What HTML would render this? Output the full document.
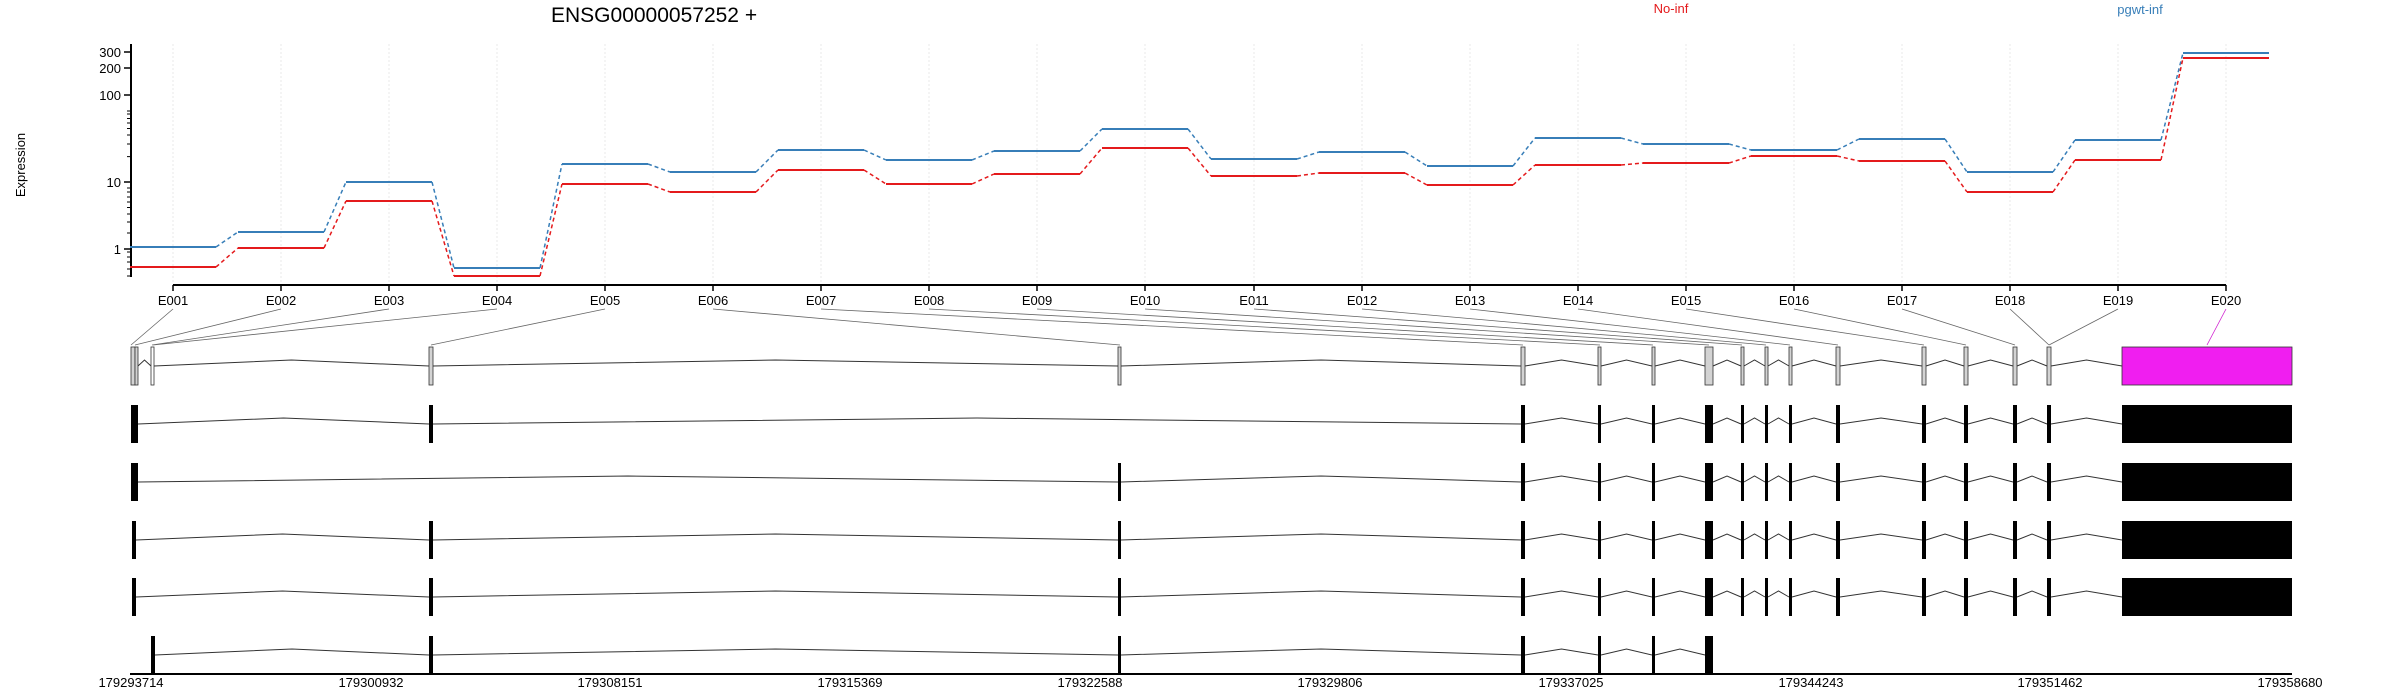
<!DOCTYPE html>
<html><head><meta charset="utf-8"><style>
html,body{margin:0;padding:0;background:#fff;}
svg{display:block;font-family:"Liberation Sans",sans-serif;}
</style></head><body>
<svg width="2400" height="700" viewBox="0 0 2400 700" xmlns="http://www.w3.org/2000/svg">
<defs>
<path id="TF" d="M1121 0L1321 -6L1521 0"/>
<path id="TG" d="M1525 0L1561.5 -6L1598 0M1601 0L1626.5 -6L1652 0M1655 0L1680 -6L1705 0M1713 0L1727 -6L1741 0M1744 0L1754.5 -6L1765 0M1768 0L1778.5 -6L1789 0M1792 0L1814 -6L1836 0M1840 0L1881 -6L1922 0M1926 0L1945 -6L1964 0M1968 0L1990.5 -6L2013 0M2017 0L2032 -6L2047 0M2051 0L2086.5 -6L2122 0"/>
<g id="EX">
<rect x="1521" y="-19" width="4" height="38"/><rect x="1598" y="-19" width="3" height="38"/><rect x="1652" y="-19" width="3" height="38"/><rect x="1705" y="-19" width="8" height="38"/><rect x="1741" y="-19" width="3" height="38"/><rect x="1765" y="-19" width="3" height="38"/><rect x="1789" y="-19" width="3" height="38"/><rect x="1836" y="-19" width="4" height="38"/><rect x="1922" y="-19" width="4" height="38"/><rect x="1964" y="-19" width="4" height="38"/><rect x="2013" y="-19" width="4" height="38"/><rect x="2047" y="-19" width="4" height="38"/><rect x="2122" y="-19" width="170" height="38"/>
</g>
</defs>

<text x="551" y="22" font-size="21">ENSG00000057252 +</text>
<text x="1671" y="13" font-size="13" fill="#e41a1c" text-anchor="middle">No-inf</text>
<text x="2140" y="14" font-size="13" fill="#377eb8" text-anchor="middle">pgwt-inf</text>
<text transform="translate(25,165) rotate(-90)" font-size="13" text-anchor="middle">Expression</text>

<g stroke="#e8e8e8" stroke-width="1" stroke-dasharray="2,2">
<path d="M173 44V285M281 44V285M389 44V285M497 44V285M605 44V285M713 44V285M821 44V285M929 44V285M1037 44V285M1145 44V285M1254 44V285M1362 44V285M1470 44V285M1578 44V285M1686 44V285M1794 44V285M1902 44V285M2010 44V285M2118 44V285M2226 44V285"/>
</g>

<g stroke="#000" fill="none">
<path d="M131 44V277" stroke-width="2"/>
<path d="M124 52H131M124 68H131M124 95H131M124 182H131M124 249H131" stroke-width="1.5"/>
<path d="M127 276H131M127 269H131M127 262H131M127 257H131M127 252H131M127 233H131M127 222H131M127 214H131M127 207.5H131M127 202H131M127 197H131M127 192H131M127 188H131M127 156.6H131M127 144H131M127 135H131M127 128.5H131M127 123H131M127 118.5H131M127 114H131M127 111H131" stroke-width="1"/>
</g>
<g font-size="13" text-anchor="end">
<text x="121" y="57">300</text><text x="121" y="73">200</text><text x="121" y="100">100</text><text x="121" y="187">10</text><text x="121" y="254">1</text>
</g>

<g stroke="#000" fill="none">
<path d="M173 285H2226" stroke-width="2"/>
<path d="M173 285V291M281 285V291M389 285V291M497 285V291M605 285V291M713 285V291M821 285V291M929 285V291M1037 285V291M1145 285V291M1254 285V291M1362 285V291M1470 285V291M1578 285V291M1686 285V291M1794 285V291M1902 285V291M2010 285V291M2118 285V291M2226 285V291" stroke-width="1.5"/>
</g>
<g font-size="13" text-anchor="middle">
<text x="173" y="305">E001</text><text x="281" y="305">E002</text><text x="389" y="305">E003</text><text x="497" y="305">E004</text><text x="605" y="305">E005</text><text x="713" y="305">E006</text><text x="821" y="305">E007</text><text x="929" y="305">E008</text><text x="1037" y="305">E009</text><text x="1145" y="305">E010</text><text x="1254" y="305">E011</text><text x="1362" y="305">E012</text><text x="1470" y="305">E013</text><text x="1578" y="305">E014</text><text x="1686" y="305">E015</text><text x="1794" y="305">E016</text><text x="1902" y="305">E017</text><text x="2010" y="305">E018</text><text x="2118" y="305">E019</text><text x="2226" y="305">E020</text>
</g>

<g fill="none" stroke-width="2">
<path stroke="#377eb8" d="M130 247H216M238 232H324M346 182H432M454 268H540M562 164H648M670 172H756M778 150H864M886 160H972M994 151H1080M1102 129H1188M1211 159H1297M1319 152H1405M1427 166H1513M1535 138H1621M1643 144H1729M1751 150H1837M1859 139H1945M1967 172H2053M2075 140H2161M2183 53H2269"/>
<path stroke="#377eb8" stroke-dasharray="4,3" stroke-width="1.5" d="M216 247L238 232M324 232L346 182M432 182L454 268M540 268L562 164M648 164L670 172M756 172L778 150M864 150L886 160M972 160L994 151M1080 151L1102 129M1188 129L1211 159M1297 159L1319 152M1405 152L1427 166M1513 166L1535 138M1621 138L1643 144M1729 144L1751 150M1837 150L1859 139M1945 139L1967 172M2053 172L2075 140M2161 140L2183 53"/>
<path stroke="#e41a1c" d="M130 267H216M238 248H324M346 201H432M454 276H540M562 184H648M670 192H756M778 170H864M886 184H972M994 174H1080M1102 148H1188M1211 176H1297M1319 173H1405M1427 185H1513M1535 165H1621M1643 163H1729M1751 156H1837M1859 161H1945M1967 192H2053M2075 160H2161M2183 58H2269"/>
<path stroke="#e41a1c" stroke-dasharray="4,3" stroke-width="1.5" d="M216 267L238 248M324 248L346 201M432 201L454 276M540 276L562 184M648 184L670 192M756 192L778 170M864 170L886 184M972 184L994 174M1080 174L1102 148M1188 148L1211 176M1297 176L1319 173M1405 173L1427 185M1513 185L1535 165M1621 165L1643 163M1729 163L1751 156M1837 156L1859 161M1945 161L1967 192M2053 192L2075 160M2161 160L2183 58"/>
</g>

<g stroke="#666" stroke-width="0.8" fill="none">
<path d="M173 309L131 345M281 309L135 345M389 309L152 345M497 309L153 345M605 309L431 345M713 309L1120 345M821 309L1523 345M929 309L1600 345M1037 309L1653 345M1145 309L1709 345M1254 309L1742 345M1362 309L1766 345M1470 309L1790 345M1578 309L1838 345M1686 309L1924 345M1794 309L1966 345M1902 309L2015 345M2010 309L2049 345M2118 309L2049 345"/>
<path d="M2226 309L2207 345" stroke="#d020d0"/>
</g>

<g transform="translate(0,366)">
<g stroke="#333" stroke-width="1" fill="none">
<path d="M138 0L144.5 -6L151 0M154 0L291.5 -6L429 0M433 0L775.5 -6L1118 0"/>
<use href="#TF"/><use href="#TG"/>
</g>
<g fill="#d3d3d3" stroke="#333" stroke-width="0.8">
<rect x="131" y="-19" width="4" height="38"/><rect x="135" y="-19" width="3" height="38"/><rect x="151" y="-19" width="3" height="38" fill="#fff"/><rect x="429" y="-19" width="4" height="38"/><rect x="1118" y="-19" width="3" height="38"/>
<rect x="1521" y="-19" width="4" height="38"/><rect x="1598" y="-19" width="3" height="38"/><rect x="1652" y="-19" width="3" height="38"/><rect x="1705" y="-19" width="8" height="38"/><rect x="1741" y="-19" width="3" height="38"/><rect x="1765" y="-19" width="3" height="38"/><rect x="1789" y="-19" width="3" height="38"/><rect x="1836" y="-19" width="4" height="38"/><rect x="1922" y="-19" width="4" height="38"/><rect x="1964" y="-19" width="4" height="38"/><rect x="2013" y="-19" width="4" height="38"/><rect x="2047" y="-19" width="4" height="38"/>
<rect x="2122" y="-19" width="170" height="38" fill="#f01ef0"/>
</g>
</g>

<g transform="translate(0,424)">
<g stroke="#333" fill="none"><path d="M138 0L283.5 -6L429 0M433 0L977 -6L1521 0"/><use href="#TG"/></g>
<rect x="131" y="-19" width="7" height="38"/><rect x="429" y="-19" width="4" height="38"/><use href="#EX"/>
</g>
<g transform="translate(0,482)">
<g stroke="#333" fill="none"><path d="M138 0L628 -6L1118 0"/><use href="#TF"/><use href="#TG"/></g>
<rect x="131" y="-19" width="7" height="38"/><rect x="1118" y="-19" width="3" height="38"/><use href="#EX"/>
</g>
<g transform="translate(0,540)">
<g stroke="#333" fill="none"><path d="M136 0L282.5 -6L429 0M433 0L775.5 -6L1118 0"/><use href="#TF"/><use href="#TG"/></g>
<rect x="132" y="-19" width="4" height="38"/><rect x="429" y="-19" width="4" height="38"/><rect x="1118" y="-19" width="3" height="38"/><use href="#EX"/>
</g>
<g transform="translate(0,597)">
<g stroke="#333" fill="none"><path d="M136 0L282.5 -6L429 0M433 0L775.5 -6L1118 0"/><use href="#TF"/><use href="#TG"/></g>
<rect x="132" y="-19" width="4" height="38"/><rect x="429" y="-19" width="4" height="38"/><rect x="1118" y="-19" width="3" height="38"/><use href="#EX"/>
</g>
<g transform="translate(0,655)">
<g stroke="#333" fill="none"><path d="M155 0L292 -6L429 0M433 0L775.5 -6L1118 0"/><use href="#TF"/><path d="M1525 0L1561.5 -6L1598 0M1601 0L1626.5 -6L1652 0M1655 0L1680 -6L1705 0"/></g>
<rect x="151" y="-19" width="4" height="38"/><rect x="429" y="-19" width="4" height="38"/><rect x="1118" y="-19" width="3" height="38"/>
<rect x="1521" y="-19" width="4" height="38"/><rect x="1598" y="-19" width="3" height="38"/><rect x="1652" y="-19" width="3" height="38"/><rect x="1705" y="-19" width="8" height="38"/>
</g>

<path d="M130 674H2292" stroke="#000" stroke-width="2"/>
<g font-size="13" text-anchor="middle">
<text x="131" y="687">179293714</text><text x="371" y="687">179300932</text><text x="610" y="687">179308151</text><text x="850" y="687">179315369</text><text x="1090" y="687">179322588</text><text x="1330" y="687">179329806</text><text x="1571" y="687">179337025</text><text x="1811" y="687">179344243</text><text x="2050" y="687">179351462</text><text x="2290" y="687">179358680</text>
</g>
</svg>
</body></html>
